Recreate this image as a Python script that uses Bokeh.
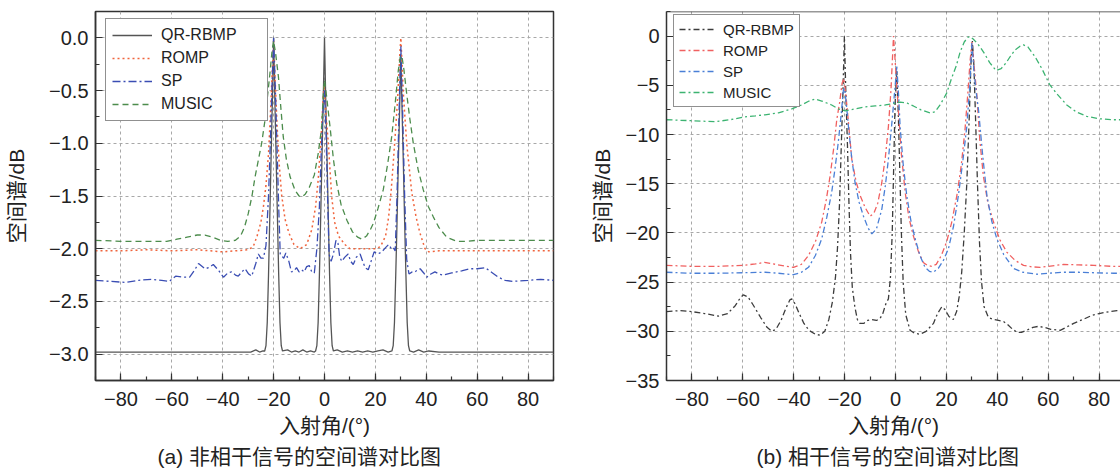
from bokeh.plotting import figure
from bokeh.models import (SingleIntervalTicker, CustomJSTickFormatter, Legend, LegendItem,
                          Title, Range1d, Span)
from bokeh.layouts import row
from bokeh.embed import file_html
from bokeh.resources import INLINE

# ---------------- (a) incoherent signals ----------------
a_qr_x = [-90, -35, -29, -27, -25.5, -24.2, -23.5, -23, -22.5, -22, -21.5, -21, -20.5, -20,
          -19.5, -19, -18.5, -18, -17.5, -17, -16.5, -14.5, -13, -11.5, -10, -8.5, -7, -5.5,
          -4, -3.5, -3, -2.5, -2, -1.5, -1, -0.5, 0, 0.5, 1, 1.5, 2, 2.5, 3, 3.5, 5, 7, 9, 11,
          13, 15, 17, 19, 21, 23, 25, 26.5, 27, 27.5, 28, 28.5, 29, 29.5, 30, 30.5, 31, 31.5,
          32, 32.5, 33, 33.5, 35, 37, 39, 41, 45, 90]
a_qr_y = [-2.98, -2.98, -2.98, -2.96, -2.98, -2.97, -2.97, -2.92, -2.7, -2.25, -1.7, -1.15, -0.6, 0.0,
          -0.6, -1.15, -1.7, -2.25, -2.7, -2.92, -2.97, -2.96, -2.98, -2.97, -2.98, -2.96, -2.98, -2.97,
          -2.98, -2.97, -2.92, -2.7, -2.25, -1.7, -1.15, -0.6, 0.0, -0.6, -1.15, -1.7, -2.25, -2.7, -2.92, -2.97, -2.96, -2.98, -2.97, -2.98,
          -2.97, -2.98, -2.97, -2.98, -2.97, -2.96, -2.98, -2.97, -2.92, -2.7, -2.25, -1.75, -1.2, -0.7, -0.15, -0.7, -1.2, -1.75,
          -2.25, -2.7, -2.92, -2.97, -2.98, -2.96, -2.98, -2.97, -2.98, -2.98]

a_romp_x = [-90, -80, -70, -60, -50, -40, -35, -30, -28, -26.5, -25, -24, -23, -22, -21.3, -20.6, -20,
            -19.4, -18.6, -17.8, -16.8, -15.5, -14, -12, -9.6, -7, -5, -3.5, -2.5, -1.5, -0.8, -0.2,
            0.5, 1.5, 2.8, 4, 5.5, 8, 10, 15, 20, 22, 24, 25.2, 26.2, 27.1, 28, 28.8, 29.5, 30,
            30.5, 31, 32.3, 34.3, 36, 37.5, 39.5, 41, 45, 60, 75, 90]
a_romp_y = [-2.02, -2.02, -2.01, -2.02, -2.01, -2.03, -2.02, -2.01, -1.98, -1.88, -1.75, -1.6, -1.4, -1.1, -0.75, -0.35, -0.03,
            -0.4, -0.85, -1.2, -1.5, -1.72, -1.85, -1.96, -2.0, -1.96, -1.82, -1.6, -1.35, -1.0, -0.7, -0.45,
            -0.7, -1.0, -1.5, -1.75, -1.88, -1.96, -2.0, -2.0, -2.0, -1.98, -1.88, -1.7, -1.45, -1.16, -0.85, -0.55, -0.2, 0.0,
            -0.25, -0.53, -1.0, -1.47, -1.7, -1.85, -2.0, -2.03, -2.02, -2.02, -2.02, -2.02]

a_sp_x = [-90, -84, -78, -73, -68, -64, -61, -58.5, -55, -53, -51, -49.5, -47, -45.5, -43.7, -41.5,
          -39.7, -38, -36.5, -35, -33.9, -32.5, -31.2, -29.8, -28.6, -27, -26, -25, -24, -23, -22,
          -21.3, -20.7, -20, -19.3, -18.7, -18, -17.4, -16.8, -16, -15.2, -14, -13, -12, -11, -10,
          -9, -8, -7, -6, -5, -4, -3, -2, -1.3, -0.6, 0, 0.6, 1.2, 1.8, 2.6, 3.5, 4.5, 5.3, 6, 6.8,
          8, 9.3, 10.3, 11.3, 12.5, 14, 15, 16, 17.2, 18.3, 19.5, 21, 22.5, 24, 25.2, 26.3, 27,
          27.8, 28.5, 29.3, 30, 30.7, 31.5, 32.3, 33.2, 34.5, 35.6, 36.5, 37.6, 39, 40.2, 41.8,
          43.4, 45, 46.7, 50, 53.9, 57, 60, 63.1, 65.5, 68.3, 71, 74, 80, 85, 90]
a_sp_y = [-2.30, -2.31, -2.32, -2.30, -2.29, -2.30, -2.31, -2.26, -2.27, -2.27, -2.2, -2.14, -2.19, -2.18, -2.15, -2.21,
          -2.27, -2.23, -2.22, -2.25, -2.26, -2.22, -2.19, -2.24, -2.26, -2.14, -2.05, -2.09, -2.09, -1.97, -1.5,
          -1.0, -0.5, 0.0, -0.5, -1.0, -1.6, -2.05, -2.07, -2.09, -2.04, -2.12, -2.22, -2.21, -2.18, -2.22,
          -2.2, -2.22, -2.17, -2.16, -2.22, -2.23, -2.0, -1.6, -1.1, -0.7, -0.5, -0.9, -1.5, -2.05, -2.12, -2.05, -1.92, -1.95, -2.08, -2.12,
          -2.08, -2.05, -2.12, -2.15, -2.08, -2.05, -2.12, -2.18, -2.2, -2.12, -2.03, -2.05, -2.03, -1.99, -1.96, -2.0, -1.99,
          -2.02, -1.5, -0.7, -0.08, -0.7, -1.5, -2.1, -2.24, -2.22, -2.22, -2.2, -2.19, -2.23, -2.27, -2.24,
          -2.22, -2.24, -2.25, -2.23, -2.21, -2.19, -2.19, -2.18, -2.22, -2.27, -2.3, -2.31, -2.3, -2.29, -2.3]

a_music_x = [-90, -80, -70, -62, -58, -54, -50, -47, -44, -41, -38, -35, -33, -31.5, -30, -28.5, -27.3,
             -26, -24.7, -23.5, -22.7, -21.5, -20.6, -20, -19.2, -18.1, -17.2, -16.2, -15, -13.5, -11.5,
             -10, -8.9, -7.5, -6, -4, -2.5, -1.1, -0.4, 0, 0.8, 2.2, 3.5, 4.8, 6.5, 8.8, 11, 13, 14.7,
             16.5, 18, 19.2, 21, 23.1, 24.8, 26.4, 27.8, 29, 29.8, 30.4, 31.2, 32.3, 33.5, 34.9, 36.8,
             38.8, 40.8, 42.8, 45, 48, 52, 56, 60, 70, 80, 90]
a_music_y = [-1.92, -1.93, -1.93, -1.93, -1.91, -1.89, -1.87, -1.87, -1.89, -1.92, -1.93, -1.92, -1.88, -1.8, -1.67, -1.5, -1.32,
             -1.16, -1.0, -0.8, -0.62, -0.35, -0.12, -0.03, -0.15, -0.37, -0.65, -0.94, -1.15, -1.32, -1.45,
             -1.5, -1.51, -1.48, -1.42, -1.3, -1.1, -0.85, -0.5, -0.4, -0.55, -0.85, -1.15, -1.38, -1.58, -1.73, -1.84, -1.89, -1.91,
             -1.88, -1.82, -1.76, -1.62, -1.44, -1.2, -0.94, -0.62, -0.31, -0.18, -0.17, -0.3, -0.53, -0.76, -1.0, -1.25,
             -1.44, -1.6, -1.7, -1.8, -1.89, -1.93, -1.93, -1.92, -1.92, -1.92, -1.92]

# ---------------- (b) coherent signals ----------------
b_qr_x = [-90, -84.7, -80, -75, -69.6, -66, -63, -61, -59.8, -58, -56, -53, -50.5, -48.6, -47, -45,
          -43, -41.5, -40.8, -39.5, -38, -36, -34, -31.5, -29.6, -27.8, -26.2, -24.8, -23.6, -22.8,
          -22, -21.3, -20.7, -20.1, -19.5, -18.9, -18.3, -17.7, -17, -16, -15, -14, -12.5, -11,
          -9.3, -7.5, -6.1, -5, -3.8, -2.8, -2, -1.3, -0.7, -0.2, 0.5, 1.1, 1.7, 2.3, 3, 4, 5.7,
          7.5, 9.6, 12, 14.9, 16.5, 18.2, 19.5, 21, 22.7, 24, 25, 26, 27, 28, 29, 29.6, 30.2, 30.8,
          31.4, 32.2, 33, 33.8, 34.8, 36.5, 38.5, 40.5, 42.4, 44, 46, 47.8, 49.5, 51.5, 54, 56.1,
          58.5, 61, 64.7, 67, 70, 74.5, 77, 80, 84, 87, 90]
b_qr_y = [-28.0, -27.9, -28.0, -28.2, -28.45, -28.2, -27.4, -26.6, -26.3, -26.5, -27.3, -28.6, -29.6, -30.0, -29.8, -28.9,
          -27.6, -26.8, -26.7, -27.2, -28.1, -29.2, -29.9, -30.3, -30.4, -30.0, -28.8, -27.0, -24.5, -21.5,
          -17.0, -11.0, -6.0, 0.0, -6.0, -11.0, -17.0, -22.0, -25.5, -27.5, -28.8, -29.2, -29.2, -28.9,
          -28.8, -28.9, -28.7, -28.2, -27.2, -26.7, -24.5, -20.0, -13.0, -7.0, -3.5, -8.0, -14.0, -20.0, -25.0, -28.3, -29.9,
          -30.2, -30.3, -30.0, -29.2, -28.2, -27.5, -27.8, -28.5, -28.8, -28.0, -26.5, -24.0, -20.0, -15.0, -8.0, -3.0, -0.5, -3.0,
          -8.0, -15.0, -21.0, -25.0, -27.5, -28.6, -28.8, -28.9, -29.0, -29.3, -29.8, -30.1, -30.1, -29.9, -29.6, -29.5,
          -29.6, -29.8, -29.9, -29.6, -29.2, -28.7, -28.4, -28.2, -28.0, -27.9, -27.9]

b_romp_x = [-90, -80, -70, -60, -55, -51.5, -47, -43, -40.1, -37, -34.2, -31.5, -29, -27.2, -25.7,
            -24.3, -23.1, -22, -21, -20.3, -19.5, -18.6, -17.2, -15.5, -13.9, -12, -10, -8.5, -7,
            -5.4, -4, -2.8, -1.8, -0.8, 0.1, 1.1, 2.3, 3.8, 5.3, 7, 9, 10.9, 12.5, 14.2, 16, 18,
            20.1, 22, 24.1, 25.8, 27.3, 28.5, 29.3, 30, 30.8, 31.9, 33.1, 34.5, 36.3, 38.5, 41,
            43.7, 47, 50.3, 53.5, 56.8, 60, 66, 72, 78, 85, 90]
b_romp_y = [-23.3, -23.4, -23.4, -23.3, -23.15, -23.0, -23.2, -23.4, -23.5, -23.2, -22.3, -20.9, -18.9, -16.6, -14.2,
            -11.4, -8.5, -6.8, -4.8, -4.3, -6.0, -8.5, -12.5, -14.8, -16.2, -17.4, -18.3, -18.0, -17.0,
            -14.9, -12.3, -9.2, -5.5, 0.0, -3.5, -7.5, -12.0, -15.9, -18.5, -20.3, -21.9, -23.0, -23.3, -23.4, -23.2, -22.3,
            -20.9, -19.0, -16.2, -13.2, -9.5, -5.5, -2.5, -0.6, -2.8, -5.8, -10.5, -14.2, -17.0, -18.9, -20.7,
            -21.95, -22.8, -23.3, -23.45, -23.5, -23.4, -23.2, -23.25, -23.3, -23.4, -23.4]

b_sp_x = [-90, -80, -70, -60, -51.3, -46, -40.1, -37, -34.2, -31.5, -29, -27, -25.1, -23.8, -22.5,
          -21.3, -20.5, -20, -19.3, -18.5, -17.3, -15.9, -14.3, -12.6, -10.8, -9.3, -7.5, -5.4, -4,
          -2.8, -1.5, -0.4, 0.5, 1.2, 1.8, 3, 4.4, 6, 7.7, 9.6, 11.6, 13.3, 14.9, 16.8, 18.8, 20.8,
          22.8, 24.7, 26.4, 28, 29.2, 30, 30.8, 31.6, 32.6, 34.2, 35.9, 37.8, 39.8, 42.5, 46.3, 50,
          55.5, 60, 66, 72, 78, 85.6, 90]
b_sp_y = [-24.0, -24.1, -24.1, -24.05, -24.0, -24.1, -24.25, -24.0, -23.5, -22.3, -20.6, -18.4, -15.9, -13.5, -10.8,
          -7.8, -5.5, -5.3, -7.0, -9.2, -12.2, -14.9, -16.9, -18.3, -19.5, -20.1, -19.6, -17.6, -15.2,
          -12.5, -9.0, -5.8, -3.1, -6.0, -9.2, -13.0, -16.2, -18.7, -20.6, -22.3, -23.5, -23.9, -24.0, -23.6, -22.8, -21.6,
          -19.3, -16.2, -12.8, -9.2, -5.0, -0.7, -3.5, -5.5, -7.5, -12.0, -16.2, -18.8, -20.6, -22.2, -23.6, -24.0,
          -24.2, -24.1, -24.0, -24.0, -24.05, -24.1, -24.1]

b_music_x = [-90, -80, -70.9, -65, -59.1, -55, -51.3, -46, -40.8, -37, -34, -31.6, -29, -27, -25.1,
             -22.5, -19.8, -16, -12, -8, -4, -1.5, 1.8, 4.5, 7, 10, 13.6, 15.5, 17.5, 20.1, 22, 23.9,
             25.4, 27, 28.5, 29.3, 30.5, 32, 33.2, 35, 37, 39.5, 41.5, 43.5, 45, 47, 48.8, 50.3, 52,
             54, 55.5, 57.5, 60.5, 63.5, 67.3, 71, 75.1, 80, 85.6, 90]
b_music_y = [-8.5, -8.6, -8.7, -8.5, -8.2, -8.1, -8.0, -7.8, -7.4, -7.0, -6.6, -6.4, -6.6, -6.8, -7.0,
             -7.4, -7.6, -7.4, -7.2, -7.1, -7.0, -6.9, -6.7, -6.8, -7.1, -7.5, -7.8, -7.7, -7.0, -5.8, -4.3, -3.0,
             -1.6, -0.6, -0.1, -0.05, -0.3, -0.7, -1.1, -1.8, -2.7, -3.5, -3.3, -2.7, -2.1, -1.4, -1.05, -0.9, -1.1,
             -1.8, -2.4, -3.3, -4.9, -5.9, -7.0, -7.7, -8.15, -8.4, -8.5, -8.5]

labels = ["QR-RBMP", "ROMP", "SP", "MUSIC"]
x_title = "入射角/(°)"
y_title = "空间谱/dB"
cap_a = "(a) 非相干信号的空间谱对比图"
cap_b = "(b) 相干信号的空间谱对比图"

NUM_FONT = "Liberation Sans"
MIX_FONT = "Liberation Sans, Noto Sans CJK SC"
FRAME = "#333333"


def fmt(decimals):
    return CustomJSTickFormatter(code=(
        "const s = Math.abs(tick).toFixed(%d);"
        "return (tick < -1e-9 ? '\u2212' : '') + s;" % decimals))


def style(p, yint, ydec, ytitle_standoff):
    xt = SingleIntervalTicker(interval=20, num_minor_ticks=2)
    yt = SingleIntervalTicker(interval=yint, num_minor_ticks=2)
    p.xaxis.ticker = xt
    p.yaxis.ticker = yt
    p.xgrid.ticker = xt
    p.ygrid.ticker = yt
    p.xaxis.formatter = fmt(0)
    p.yaxis.formatter = fmt(ydec)
    for ax in (p.xaxis[0], p.yaxis[0]):
        ax.axis_line_color = FRAME
        ax.axis_line_width = 1.5
        ax.major_tick_line_color = FRAME
        ax.minor_tick_line_color = FRAME
        ax.major_tick_line_width = 1.2
        ax.minor_tick_line_width = 1.2
        ax.major_tick_in = 7
        ax.major_tick_out = 0
        ax.minor_tick_in = 4
        ax.minor_tick_out = 0
        ax.major_label_text_font = NUM_FONT
        ax.major_label_text_font_size = "20px"
        ax.major_label_text_color = "#222222"
        ax.axis_label_text_font = MIX_FONT
        ax.axis_label_text_font_size = "21px"
        ax.axis_label_text_font_style = "normal"
        ax.axis_label_text_color = "#222222"
    p.xaxis.major_label_standoff = 11
    p.yaxis.major_label_standoff = 7
    p.xaxis.axis_label = x_title
    p.yaxis.axis_label = y_title
    p.xaxis.axis_label_standoff = 5
    p.yaxis.axis_label_standoff = ytitle_standoff
    for g in (p.xgrid[0], p.ygrid[0]):
        g.grid_line_color = "#a8a8a8"
        g.grid_line_dash = "3 3"
        g.grid_line_width = 1
    p.background_fill_color = "white"
    p.border_fill_color = "white"
    p.outline_line_color = FRAME
    p.outline_line_width = 1.5


def add_legend(p, renderers, font_size, glyph_w, standoff, lab_w, item_h, spacing, padding, loc):
    items = [LegendItem(label=l, renderers=[r]) for l, r in zip(labels, renderers)]
    lg = Legend(items=items, location=loc, label_text_font=NUM_FONT,
                label_text_font_size=font_size, glyph_width=glyph_w, glyph_height=item_h,
                label_height=item_h, label_width=lab_w, label_standoff=standoff,
                spacing=spacing, padding=padding, margin=0,
                border_line_color="#222222", border_line_width=1.5,
                background_fill_color="white", background_fill_alpha=1.0,
                label_text_color="#222222")
    p.add_layout(lg, "center")


def add_caption(p, text, offset):
    p.add_layout(Title(text=text, align="left", offset=offset, standoff=6,
                       text_font=MIX_FONT, text_font_size="21px", text_font_style="normal",
                       text_color="#222222"), "below")


# ----- figure (a)
pa = figure(width=560, height=473, output_backend="svg", toolbar_location=None,
            x_range=Range1d(-90, 90), y_range=Range1d(-3.25, 0.25),
            min_border_left=95, min_border_right=7, min_border_top=11, min_border_bottom=92)
style(pa, 0.5, 1, 18)
ra = [
    pa.line(a_qr_x, a_qr_y, line_color="#555555", line_width=1.3),
    pa.line(a_romp_x, a_romp_y, line_color="#f0643c", line_width=1.5, line_dash="2 3"),
    pa.line(a_sp_x, a_sp_y, line_color="#3a4db3", line_width=1.3, line_dash="8 3 2 3"),
    pa.line(a_music_x, a_music_y, line_color="#4c8c4c", line_width=1.3, line_dash="6 4"),
]
add_legend(pa, ra, "16px", 40, 9, 100, 20, 3, 6, (10, 259))
add_caption(pa, cap_a, 62)

# ----- figure (b)
pb = figure(width=560, height=473, output_backend="svg", toolbar_location=None,
            x_range=Range1d(-90, 88.4), y_range=Range1d(-35, 2.5),
            min_border_left=106, min_border_right=0, min_border_top=11, min_border_bottom=93)
style(pb, 5, 0, 9)
pb.outline_line_color = None
pb.add_layout(Span(location=2.5, dimension="width", line_color=FRAME, line_width=1.5))
rb = [
    pb.line(b_qr_x, b_qr_y, line_color="#3c3c3c", line_width=1.3, line_dash="6 3 2 3"),
    pb.line(b_romp_x, b_romp_y, line_color="#f06060", line_width=1.3, line_dash="6 3 2 3"),
    pb.line(b_sp_x, b_sp_y, line_color="#4a7fd6", line_width=1.3, line_dash="6 3 2 3"),
    pb.line(b_music_x, b_music_y, line_color="#3cb371", line_width=1.3, line_dash="6 3 2 3"),
]
add_legend(pb, rb, "15px", 37, 7, 68, 18, 3, 5, (7, 273))
add_caption(pb, cap_b, 90)

layout = row(pa, pb)
with open("out.html", "w", encoding="utf-8") as f:
    f.write(file_html(layout, INLINE))
